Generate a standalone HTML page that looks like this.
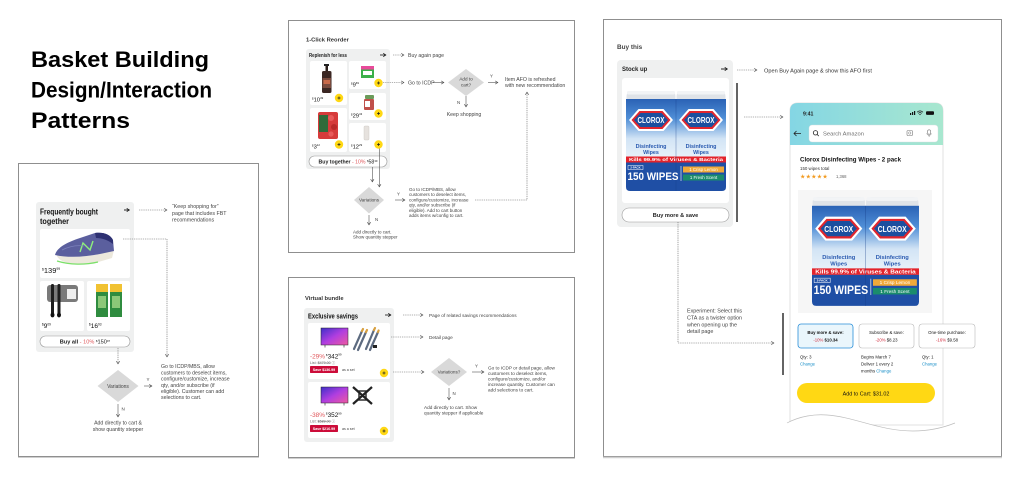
<!DOCTYPE html>
<html><head><meta charset="utf-8"><style>
html,body{margin:0;padding:0;background:#fff;width:1022px;height:478px;overflow:hidden}
svg{display:block}
text{font-family:"Liberation Sans",Arial,sans-serif}
</style></head><body>
<svg width="1022" height="478" viewBox="0 0 1022 478" xmlns="http://www.w3.org/2000/svg">
<defs>
<marker id="ah" viewBox="0 0 6 6" refX="5.2" refY="3" markerWidth="4" markerHeight="4" orient="auto" markerUnits="userSpaceOnUse"><path d="M1,0.5 L5,3 L1,5.5" fill="none" stroke="#444" stroke-width="0.9"/></marker>
<marker id="bh" viewBox="0 0 6 6" refX="5.2" refY="3" markerWidth="4" markerHeight="4" orient="auto" markerUnits="userSpaceOnUse"><path d="M1,0.5 L5,3 L1,5.5" fill="none" stroke="#111" stroke-width="1.1"/></marker>
<linearGradient id="hdr" x1="0" x2="1" y1="0" y2="0"><stop offset="0" stop-color="#84d6e4"/><stop offset="1" stop-color="#a8e7cf"/></linearGradient>
<linearGradient id="tv" x1="0" y1="0" x2="1" y2="1"><stop offset="0" stop-color="#3d2fc8"/><stop offset="0.5" stop-color="#b03ee0"/><stop offset="1" stop-color="#ef5aa0"/></linearGradient>
<linearGradient id="cg" x1="0" y1="0" x2="0" y2="1"><stop offset="0" stop-color="#2a62b5"/><stop offset="0.3" stop-color="#4f8ed6"/><stop offset="0.62" stop-color="#d2e4f5"/><stop offset="1" stop-color="#eef5fb"/></linearGradient>
</defs>

<!-- Title -->
<text x="31" y="67" font-size="22" font-weight="bold" fill="#000" textLength="178" lengthAdjust="spacingAndGlyphs">Basket Building</text>
<text x="31" y="97.5" font-size="22" font-weight="bold" fill="#000" textLength="181" lengthAdjust="spacingAndGlyphs">Design/Interaction</text>
<text x="31" y="128" font-size="22" font-weight="bold" fill="#000" textLength="99" lengthAdjust="spacingAndGlyphs">Patterns</text>

<!-- Frames -->
<rect x="18.5" y="163.5" width="240" height="293" fill="#fff" stroke="#8f8f8f" stroke-width="1"/>
<rect x="288.5" y="20.5" width="286" height="232" fill="#fff" stroke="#8f8f8f" stroke-width="1"/>
<rect x="288.5" y="277.5" width="286" height="180" fill="#fff" stroke="#8f8f8f" stroke-width="1"/>
<rect x="603.5" y="19.5" width="398" height="437" fill="#fff" stroke="#8f8f8f" stroke-width="1"/>
<line x1="18" y1="457.5" x2="259" y2="457.5" stroke="#cfcfcf" stroke-width="1"/>
<line x1="288" y1="458.5" x2="575" y2="458.5" stroke="#cfcfcf" stroke-width="1"/>
<line x1="603" y1="457.5" x2="1002" y2="457.5" stroke="#cfcfcf" stroke-width="1.5"/>

<!-- ============ LEFT PANEL ============ -->
<rect x="36" y="202" width="98" height="150" rx="3" fill="#eff0f0"/>
<text x="40" y="214.5" font-size="8" font-weight="bold" fill="#111" textLength="58" lengthAdjust="spacingAndGlyphs">Frequently bought</text>
<text x="40" y="224" font-size="8" font-weight="bold" fill="#111" textLength="29" lengthAdjust="spacingAndGlyphs">together</text>
<path d="M124,210 H129.5" stroke="#111" stroke-width="0.9" marker-end="url(#bh)"/>
<!-- shoe tile -->
<rect x="40" y="229" width="90" height="49" rx="2" fill="#fff"/>
<path d="M57,256 C60,263 75,266 95,263 L112,258 L114,250 L100,254 C85,257 70,257 57,254 Z" fill="#ece8dc"/>
<path d="M57,261 C70,265 85,265 98,262" stroke="#7ce06a" stroke-width="1.3" fill="none"/>
<path d="M55,255 C57,247 68,242 80,238 L95,233 C103,232 110,234 113,240 L114,251 L100,254 C85,257 68,258 55,255 Z" fill="#5b5f9e"/>
<path d="M95,233 C103,232 110,234 113,240 L113,244 C108,240 102,238 96,238 Z" fill="#2e3172"/>
<path d="M80,252 L83,243 L90,250 L93,241" stroke="#8ef07c" stroke-width="1.4" fill="none"/>
<path d="M62,250 C70,246 78,245 84,246" stroke="#7b80bb" stroke-width="0.8" fill="none"/>
<text x="42" y="273" fill="#111"><tspan font-size="3.4" dy="-2.6">$</tspan><tspan font-size="7.5" dy="2.6">139</tspan><tspan font-size="3.4" dy="-3">99</tspan></text>
<!-- small tiles -->
<rect x="40" y="281" width="44" height="50" rx="2" fill="#fff"/>
<rect x="87" y="281" width="43" height="50" rx="2" fill="#fff"/>
<rect x="47" y="285" width="31" height="17" rx="3" fill="#7a7a7a"/>
<rect x="67" y="289" width="9" height="10" fill="#eee"/>
<rect x="51" y="284" width="3" height="30" rx="1.4" fill="#1d1d1d"/>
<rect x="57.5" y="284" width="3" height="30" rx="1.4" fill="#1d1d1d"/>
<ellipse cx="52.5" cy="315" rx="2" ry="2.4" fill="#111"/>
<ellipse cx="59" cy="315" rx="2" ry="2.4" fill="#111"/>
<text x="42" y="328" fill="#111"><tspan font-size="3.2" dy="-2.4">$</tspan><tspan font-size="6.5" dy="2.4">9</tspan><tspan font-size="3.2" dy="-2.6">09</tspan></text>
<rect x="96" y="284" width="12" height="33" fill="#2f8c3f"/>
<rect x="96" y="284" width="12" height="8" fill="#f1c232"/>
<rect x="110" y="284" width="12" height="33" fill="#2f8c3f"/>
<rect x="110" y="284" width="12" height="8" fill="#f1c232"/>
<rect x="98" y="296" width="8" height="12" fill="#8cc878"/>
<rect x="112" y="296" width="8" height="12" fill="#8cc878"/>
<text x="89" y="328" fill="#111"><tspan font-size="3.2" dy="-2.4">$</tspan><tspan font-size="6.5" dy="2.4">16</tspan><tspan font-size="3.2" dy="-2.6">93</tspan></text>
<!-- buy all pill -->
<rect x="40" y="336" width="90" height="11" rx="5.5" fill="#fff" stroke="#9a9a9a" stroke-width="0.6"/>
<text x="85" y="343.6" font-size="5.6" text-anchor="middle" fill="#222"><tspan font-weight="bold">Buy all</tspan><tspan fill="#e0575b"> - 10% </tspan><tspan font-size="3" dy="-1.8">$</tspan><tspan font-size="5.6" dy="1.8">150</tspan><tspan font-size="3" dy="-1.8">97</tspan></text>
<!-- connectors left -->
<g fill="none" stroke="#666" stroke-width="0.6" stroke-dasharray="1.3 0.9">
<path d="M139,210 H167" marker-end="url(#ah)"/>
<path d="M123,239 H167 V357" marker-end="url(#ah)"/>
<path d="M118,348 V364" marker-end="url(#ah)"/>
</g>
<g font-size="5.3" fill="#444">
<text x="172" y="208">“Keep shopping for”</text>
<text x="172" y="215">page that includes FBT</text>
<text x="172" y="221.5">recommendations</text>
</g>
<polygon points="118,370 138.5,386 118,402 97.5,386" fill="#d9d9d9"/>
<text x="118" y="388" font-size="5" fill="#444" text-anchor="middle">Variations</text>
<path d="M144,386 H152" stroke="#555" stroke-width="0.6" fill="none" marker-end="url(#ah)"/>
<text x="146.5" y="381" font-size="4.5" fill="#444">Y</text>
<g font-size="5.2" fill="#444">
<text x="161" y="368">Go to ICDP/MBS, allow</text>
<text x="161" y="374.3">customers to deselect items,</text>
<text x="161" y="380.6">configure/customize, increase</text>
<text x="161" y="386.8">qty, and/or subscribe (if</text>
<text x="161" y="393">eligible). Customer can add</text>
<text x="161" y="399.2">selections to cart.</text>
</g>
<path d="M118,404 V417" stroke="#555" stroke-width="0.6" fill="none" marker-end="url(#ah)"/>
<text x="121.5" y="410.5" font-size="4.5" fill="#444">N</text>
<text x="118" y="424.5" font-size="5.2" fill="#444" text-anchor="middle">Add directly to cart &amp;</text>
<text x="118" y="430.8" font-size="5.2" fill="#444" text-anchor="middle">show quantity stepper</text>

<!-- ============ TOP MIDDLE PANEL ============ -->
<text x="306" y="41.5" font-size="5.8" font-weight="bold" fill="#333">1-Click Reorder</text>
<rect x="306" y="49" width="84" height="120" rx="3" fill="#eff0f0"/>
<text x="309" y="57" font-size="5.2" font-weight="bold" fill="#222" textLength="38" lengthAdjust="spacingAndGlyphs">Replenish for less</text>
<path d="M380,55 H386" stroke="#111" stroke-width="0.8" fill="none" marker-end="url(#bh)"/>
<!-- tiles -->
<rect x="310" y="61" width="37" height="44" rx="2" fill="#fff"/>
<rect x="310" y="108" width="37" height="44" rx="2" fill="#fff"/>
<rect x="349" y="61" width="37" height="28" rx="2" fill="#fff"/>
<rect x="349" y="93" width="37" height="27" rx="2" fill="#fff"/>
<rect x="349" y="123" width="37" height="29" rx="2" fill="#fff"/>
<!-- soap -->
<rect x="324" y="64" width="5" height="2" fill="#222"/>
<rect x="325.5" y="66" width="2.5" height="5" fill="#2a1e1a"/>
<rect x="322" y="71" width="9.5" height="22" rx="1.6" fill="#3b2723"/>
<rect x="322.5" y="78" width="8.5" height="10" fill="#7a4b3e"/>
<rect x="323.5" y="80" width="6.5" height="4" fill="#c86a4a"/>
<!-- strawberries -->
<rect x="318" y="112" width="20" height="27" rx="2" fill="#d63b3b"/>
<circle cx="331" cy="118" r="3" fill="#e85a5a"/><circle cx="334" cy="127" r="3" fill="#b82a2a"/><circle cx="331" cy="134" r="2.6" fill="#e85a5a"/>
<rect x="319" y="115" width="9" height="17" fill="#2f6b3a"/>
<!-- snack -->
<rect x="361" y="66" width="13" height="12" fill="#3bb04a"/>
<rect x="361" y="66" width="13" height="3.5" fill="#e84a9a"/>
<rect x="363" y="71" width="9" height="4" fill="#fff"/>
<!-- gummies -->
<rect x="365" y="95" width="9" height="4" rx="1" fill="#6b9b5a"/>
<rect x="364" y="99" width="10" height="11" rx="1" fill="#c0504a"/>
<rect x="365" y="101" width="5" height="6" fill="#fff"/>
<!-- lotion -->
<rect x="364" y="126" width="5" height="14" rx="1" fill="#e6e2de" stroke="#c8c4c0" stroke-width="0.4"/>
<!-- prices -->
<g fill="#111">
<text x="312" y="101.5"><tspan font-size="2.8" dy="-2.2">$</tspan><tspan font-size="5.8" dy="2.2">10</tspan><tspan font-size="2.8" dy="-2.4">49</tspan></text>
<text x="312" y="148.5"><tspan font-size="2.8" dy="-2.2">$</tspan><tspan font-size="5.8" dy="2.2">3</tspan><tspan font-size="2.8" dy="-2.4">12</tspan></text>
<text x="351" y="86.5"><tspan font-size="2.8" dy="-2.2">$</tspan><tspan font-size="5.8" dy="2.2">9</tspan><tspan font-size="2.8" dy="-2.4">69</tspan></text>
<text x="351" y="117.5"><tspan font-size="2.8" dy="-2.2">$</tspan><tspan font-size="5.8" dy="2.2">29</tspan><tspan font-size="2.8" dy="-2.4">43</tspan></text>
<text x="351" y="148.5"><tspan font-size="2.8" dy="-2.2">$</tspan><tspan font-size="5.8" dy="2.2">12</tspan><tspan font-size="2.8" dy="-2.4">29</tspan></text>
</g>
<g fill="#ffd814">
<circle cx="339" cy="98" r="4.2"/><circle cx="339" cy="144.5" r="4.2"/>
<circle cx="378.5" cy="83" r="4.2"/><circle cx="378.5" cy="113.5" r="4.2"/><circle cx="378.5" cy="144.5" r="4.2"/>
</g>
<g stroke="#222" stroke-width="0.7">
<path d="M337.5,98 h3 M339,96.5 v3"/><path d="M337.5,144.5 h3 M339,143 v3"/>
<path d="M377,83 h3 M378.5,81.5 v3"/><path d="M377,113.5 h3 M378.5,112 v3"/><path d="M377,144.5 h3 M378.5,143 v3"/>
</g>
<rect x="309" y="156" width="78" height="11" rx="5.5" fill="#fff" stroke="#9a9a9a" stroke-width="0.6"/>
<text x="348" y="163.5" font-size="5.2" text-anchor="middle" fill="#222"><tspan font-weight="bold">Buy together</tspan><tspan fill="#e0575b"> - 10% </tspan><tspan font-size="2.8" dy="-1.7">$</tspan><tspan font-size="5.2" dy="1.7">58</tspan><tspan font-size="2.8" dy="-1.7">39</tspan></text>
<!-- connectors -->
<g fill="none" stroke="#666" stroke-width="0.6" stroke-dasharray="1.3 0.9">
<path d="M393,55 H404" marker-end="url(#ah)"/>
<path d="M383,82.5 H404" marker-end="url(#ah)"/>
<path d="M475,200 H527 V92" marker-end="url(#ah)"/>
</g>
<g fill="none" stroke="#555" stroke-width="0.6">
<path d="M433,82.5 H444" marker-end="url(#ah)"/>
<path d="M488,82.5 H498" marker-end="url(#ah)"/>
<path d="M466,96 V107" marker-end="url(#ah)"/>
<path d="M372.3,167 V182" marker-end="url(#ah)"/>
<path d="M379.3,148.5 V187" marker-end="url(#ah)"/>
<path d="M395,200 H405" marker-end="url(#ah)"/>
<path d="M369,215 V225" marker-end="url(#ah)"/>
</g>
<g font-size="5.2" fill="#444">
<text x="408" y="57">Buy again page</text>
<text x="408" y="84.5">Go to ICDP</text>
<text x="505" y="81">Item AFO is refreshed</text>
<text x="505" y="87">with new recommendation</text>
<text x="464" y="116" text-anchor="middle">Keep shopping</text>
</g>
<polygon points="466,69 484,82.5 466,96 448,82.5" fill="#d9d9d9"/>
<text x="466" y="80.5" font-size="4.6" fill="#444" text-anchor="middle">Add to</text>
<text x="466" y="86.5" font-size="4.6" fill="#444" text-anchor="middle">cart?</text>
<text x="490" y="77.5" font-size="4.4" fill="#444">Y</text>
<text x="457" y="104" font-size="4.4" fill="#444">N</text>
<polygon points="369,187 384,200 369,213.5 354,200" fill="#d9d9d9"/>
<text x="369" y="201.7" font-size="4.6" fill="#444" text-anchor="middle">Variations</text>
<text x="397" y="195.5" font-size="4.4" fill="#444">Y</text>
<text x="375" y="221" font-size="4.4" fill="#444">N</text>
<g font-size="4.5" fill="#444">
<text x="409" y="191">Go to ICDP/MBS, allow</text>
<text x="409" y="196.2">customers to deselect items,</text>
<text x="409" y="201.4">configure/customize, increase</text>
<text x="409" y="206.6">qty, and/or subscribe (if</text>
<text x="409" y="211.8">eligible). Add to cart button</text>
<text x="409" y="217">adds items w/config to cart.</text>
<text x="353" y="233.5">Add directly to cart.</text>
<text x="353" y="238.7">Show quantity stepper</text>
</g>

<!-- ============ BOTTOM MIDDLE PANEL ============ -->
<text x="305" y="300" font-size="5.8" font-weight="bold" fill="#333">Virtual bundle</text>
<rect x="304" y="308" width="90" height="134" rx="3" fill="#eff0f0"/>
<text x="308" y="318.5" font-size="7" font-weight="bold" fill="#111" textLength="50" lengthAdjust="spacingAndGlyphs">Exclusive savings</text>
<path d="M385,315 H391" stroke="#111" stroke-width="0.8" fill="none" marker-end="url(#bh)"/>
<rect x="308" y="323" width="82" height="56" rx="2" fill="#fff"/>
<rect x="308" y="382" width="82" height="56" rx="2" fill="#fff"/>
<!-- TV1 + cables -->
<rect x="321" y="328" width="27" height="17" fill="url(#tv)" stroke="#222" stroke-width="0.5"/>
<path d="M325,345 v2.5 M344,345 v2.5" stroke="#222" stroke-width="0.6"/>
<g stroke-linecap="round">
<path d="M354,349 L362,331" stroke="#5d6b80" stroke-width="2.2"/>
<path d="M358,350 L366,332" stroke="#5d6b80" stroke-width="2.2"/>
<path d="M366,349 L374,330" stroke="#5d6b80" stroke-width="2.2"/>
<path d="M370,350 L378,332" stroke="#5d6b80" stroke-width="2.2"/>
<path d="M362,331 l1,-2 M366,332 l1,-2 M374,330 l1,-2 M378,332 l0.6,-1.5" stroke="#d8a040" stroke-width="2.2"/>
</g>
<rect x="373" y="345" width="4" height="3" fill="#222"/>
<!-- TV2 + mount -->
<rect x="321" y="387" width="27" height="16" fill="url(#tv)" stroke="#222" stroke-width="0.5"/>
<path d="M325,403 v2.5 M344,403 v2.5" stroke="#222" stroke-width="0.6"/>
<path d="M353,387 L372,404 M372,387 L353,404" stroke="#222" stroke-width="2.2"/>
<rect x="359" y="391" width="7" height="9" fill="none" stroke="#222" stroke-width="1.4"/>
<!-- prices -->
<text x="310" y="358.3" font-size="6.4"><tspan fill="#e0575b">-29%</tspan><tspan fill="#111" font-size="3" dx="1" dy="-2.4">$</tspan><tspan fill="#111" dy="2.4">342</tspan><tspan fill="#111" font-size="3" dy="-2.6">99</tspan></text>
<text x="310" y="364" font-size="3.6" fill="#666">List: <tspan text-decoration="line-through">$479.00</tspan> ⓘ</text>
<rect x="310" y="366" width="28" height="7" rx="0.8" fill="#cc0c39"/>
<text x="324" y="371" font-size="3.6" fill="#fff" text-anchor="middle" font-weight="bold">Save $136.99</text>
<text x="342" y="371" font-size="3.6" fill="#444">as a set</text>
<text x="310" y="417" font-size="6.4"><tspan fill="#e0575b">-38%</tspan><tspan fill="#111" font-size="3" dx="1" dy="-2.4">$</tspan><tspan fill="#111" dy="2.4">352</tspan><tspan fill="#111" font-size="3" dy="-2.6">99</tspan></text>
<text x="310" y="422.7" font-size="3.6" fill="#666">List: <tspan text-decoration="line-through">$589.00</tspan> ⓘ</text>
<rect x="310" y="425" width="28" height="7" rx="0.8" fill="#cc0c39"/>
<text x="324" y="430" font-size="3.6" fill="#fff" text-anchor="middle" font-weight="bold">Save $216.99</text>
<text x="342" y="430" font-size="3.6" fill="#444">as a set</text>
<circle cx="384" cy="373" r="4.2" fill="#ffd814"/><circle cx="384" cy="431" r="4.2" fill="#ffd814"/>
<path d="M382.5,373 h3 M384,371.5 v3 M382.5,431 h3 M384,429.5 v3" stroke="#222" stroke-width="0.7"/>
<!-- connectors -->
<g fill="none" stroke="#666" stroke-width="0.6" stroke-dasharray="1.3 0.9">
<path d="M403,315 H423" marker-end="url(#ah)"/>
<path d="M391,337 H423" marker-end="url(#ah)"/>
<path d="M393,372 H424" marker-end="url(#ah)"/>
</g>
<g fill="none" stroke="#555" stroke-width="0.6">
<path d="M472,372 H484" marker-end="url(#ah)"/>
<path d="M449,388 V400" marker-end="url(#ah)"/>
</g>
<polygon points="449,358 467,372 449,386 431,372" fill="#d9d9d9"/>
<text x="449" y="373.7" font-size="4.6" fill="#444" text-anchor="middle">Variations?</text>
<text x="475" y="367.5" font-size="4.4" fill="#444">Y</text>
<text x="452.5" y="395" font-size="4.4" fill="#444">N</text>
<g font-size="4.7" fill="#444">
<text x="429" y="317">Page of related savings recommendations</text>
<text x="429" y="339">Detail page</text>
<text x="488" y="369.5">Go to ICDP or detail page, allow</text>
<text x="488" y="375">customers to deselect items,</text>
<text x="488" y="380.5">configure/customize, and/or</text>
<text x="488" y="386">increase quantity. Customer can</text>
<text x="488" y="391.5">add selections to cart.</text>
<text x="424" y="409">Add directly to cart. Show</text>
<text x="424" y="414.5">quantity stepper if applicable</text>
</g>

<!-- ============ RIGHT PANEL ============ -->
<text x="617" y="49" font-size="6.4" font-weight="bold" fill="#444">Buy this</text>
<rect x="617" y="60" width="116" height="167" rx="4" fill="#eff0f0"/>
<text x="622" y="71.2" font-size="6" font-weight="bold" fill="#222">Stock up</text>
<path d="M721,69 H727.5" stroke="#111" stroke-width="0.9" fill="none" marker-end="url(#bh)"/>
<rect x="622" y="78" width="107" height="125" rx="3" fill="#fff"/>

<!-- Clorox 1 -->
<svg x="626" y="90" width="100" height="102" viewBox="0 0 100 102" preserveAspectRatio="none">
<g>
<rect x="0.5" y="1" width="49" height="13" rx="5" fill="#dfe3e8"/>
<rect x="1" y="1" width="48" height="3.5" rx="1.5" fill="#f2f4f6"/>
<rect x="0" y="9" width="50" height="64" fill="url(#cg)"/>
<polygon points="3,30 12.5,19 37.5,19 47,30 37.5,41 12.5,41" fill="#fff"/>
<polygon points="5.5,30 13.5,21 36.5,21 44.5,30 36.5,39 13.5,39" fill="#e0262e"/>
<polygon points="8,30 14.5,23 35.5,23 42,30 35.5,37 14.5,37" fill="#1b4f9f"/>
<text x="25" y="33.2" font-size="8" font-weight="bold" fill="#fff" text-anchor="middle" textLength="27" lengthAdjust="spacingAndGlyphs">CLOROX</text>
<text x="25" y="58" font-size="5.4" font-weight="bold" fill="#2a5ab0" text-anchor="middle">Disinfecting</text>
<text x="25" y="64" font-size="5.4" font-weight="bold" fill="#2a5ab0" text-anchor="middle">Wipes</text>
</g>
<g transform="translate(50,0)">
<rect x="0.5" y="1" width="49" height="13" rx="5" fill="#dfe3e8"/>
<rect x="1" y="1" width="48" height="3.5" rx="1.5" fill="#f2f4f6"/>
<rect x="0" y="9" width="50" height="64" fill="url(#cg)"/>
<polygon points="3,30 12.5,19 37.5,19 47,30 37.5,41 12.5,41" fill="#fff"/>
<polygon points="5.5,30 13.5,21 36.5,21 44.5,30 36.5,39 13.5,39" fill="#e0262e"/>
<polygon points="8,30 14.5,23 35.5,23 42,30 35.5,37 14.5,37" fill="#1b4f9f"/>
<text x="25" y="33.2" font-size="8" font-weight="bold" fill="#fff" text-anchor="middle" textLength="27" lengthAdjust="spacingAndGlyphs">CLOROX</text>
<text x="25" y="58" font-size="5.4" font-weight="bold" fill="#2a5ab0" text-anchor="middle">Disinfecting</text>
<text x="25" y="64" font-size="5.4" font-weight="bold" fill="#2a5ab0" text-anchor="middle">Wipes</text>
</g>
<rect x="0" y="66.5" width="100" height="6" fill="#e3232b"/>
<text x="50" y="71.1" font-size="4.6" font-weight="bold" fill="#fff" text-anchor="middle" textLength="94" lengthAdjust="spacingAndGlyphs">Kills 99.9% of Viruses &amp; Bacteria</text>
<path d="M0,72.5 H100 V97 Q100,101 96,101 H4 Q0,101 0,97 Z" fill="#1f4fa5"/>
<line x1="50" y1="9" x2="50" y2="101" stroke="#143a85" stroke-width="0.6" opacity="0.5"/>
<rect x="2" y="75.5" width="15" height="4" fill="none" stroke="#fff" stroke-width="0.5"/>
<text x="9.5" y="78.6" font-size="2.8" fill="#fff" text-anchor="middle" font-weight="bold">2-PACK</text>
<text x="1.5" y="90" font-size="11" font-weight="bold" fill="#fff" textLength="51" lengthAdjust="spacingAndGlyphs">150 WIPES</text>
<line x1="55" y1="76" x2="55" y2="91" stroke="#fff" stroke-width="0.6"/>
<rect x="57" y="76.5" width="41" height="6" fill="#f0a93a"/>
<text x="77.5" y="81" font-size="4.4" fill="#fff" text-anchor="middle">1 Crisp Lemon</text>
<rect x="57" y="84.5" width="41" height="6" fill="#1b8c6c"/>
<text x="77.5" y="89" font-size="4.4" fill="#fff" text-anchor="middle">1 Fresh Scent</text>
</svg>

<rect x="622" y="208" width="107" height="14" rx="7" fill="#fff" stroke="#9a9a9a" stroke-width="0.6"/>
<text x="675.5" y="217.2" font-size="5.6" fill="#222" text-anchor="middle" font-weight="bold">Buy more &amp; save</text>
<line x1="737" y1="83" x2="737" y2="222" stroke="#222" stroke-width="1.4"/>
<line x1="783" y1="313" x2="783" y2="375" stroke="#222" stroke-width="1.4"/>
<g fill="none" stroke="#666" stroke-width="0.6" stroke-dasharray="1.3 0.9">
<path d="M737,70 H757" marker-end="url(#ah)"/>
<path d="M744,117 H783" marker-end="url(#ah)"/>
<path d="M678,222 V343 H774" marker-end="url(#ah)"/>
</g>
<text x="764" y="72.3" font-size="5.6" fill="#333">Open Buy Again page &amp; show this AFO first</text>
<g font-size="5.4" fill="#444">
<text x="687" y="312.7">Experiment: Select this</text>
<text x="687" y="319.5">CTA as a twister option</text>
<text x="687" y="326.3">when opening up the</text>
<text x="687" y="333">detail page</text>
</g>

<!-- Phone -->
<path d="M790,425 V111 Q790,103 798,103 H935 Q943,103 943,111 V425 Z" fill="#fff" stroke="#e2e2e2" stroke-width="1"/>
<path d="M790,145 V111 Q790,103 798,103 H935 Q943,103 943,111 V145 Z" fill="url(#hdr)"/>
<text x="803" y="115.5" font-size="5.2" font-weight="bold" fill="#222">9:41</text>
<rect x="910" y="113" width="1.2" height="2" fill="#111"/><rect x="912" y="112" width="1.2" height="3" fill="#111"/><rect x="914" y="111" width="1.2" height="4" fill="#111"/>
<path d="M917,112.2 Q920,109.5 923,112.2 M918.2,113.4 Q920,111.8 921.8,113.4" stroke="#111" stroke-width="0.7" fill="none"/><circle cx="920" cy="114.5" r="0.6" fill="#111"/>
<rect x="926" y="111.3" width="8" height="3.6" rx="1" fill="#111"/>
<path d="M801,133.5 H794 M796.5,131 L794,133.5 L796.5,136" stroke="#222" stroke-width="0.8" fill="none"/>
<rect x="809" y="125" width="129" height="17" rx="3" fill="#fff" stroke="#d6dadd" stroke-width="0.4"/>
<circle cx="815.5" cy="132.8" r="2.2" fill="none" stroke="#222" stroke-width="0.8"/>
<path d="M817.1,134.4 L818.8,136.1" stroke="#222" stroke-width="0.8"/>
<text x="823" y="135.5" font-size="5.8" fill="#6f6f6f">Search Amazon</text>
<rect x="907" y="130.5" width="5.5" height="5" rx="1" fill="none" stroke="#777" stroke-width="0.6"/>
<circle cx="909.75" cy="133" r="1.2" fill="none" stroke="#777" stroke-width="0.5"/>
<rect x="927.6" y="129.8" width="3" height="4.5" rx="1.5" fill="none" stroke="#777" stroke-width="0.6"/>
<path d="M926.5,133.5 Q929.1,137.5 931.7,133.5 M929.1,135.8 V137" stroke="#777" stroke-width="0.5" fill="none"/>

<text x="800" y="161.5" font-size="6.1" font-weight="bold" fill="#111" textLength="101" lengthAdjust="spacingAndGlyphs">Clorox Disinfecting Wipes - 2 pack</text>
<text x="800" y="170" font-size="4.4" fill="#333">150 wipes total</text>
<text x="800" y="178.3" font-size="6" fill="#f29a1f" letter-spacing="0.2">★★★★★</text>
<text x="836" y="177.8" font-size="4.2" fill="#666">1,368</text>
<rect x="798" y="190" width="134" height="123" fill="#f6f6f6"/>

<!-- Clorox 2 -->
<svg x="812" y="196" width="107" height="111" viewBox="0 0 100 102" preserveAspectRatio="none">
<g>
<rect x="0.5" y="1" width="49" height="13" rx="5" fill="#dfe3e8"/>
<rect x="1" y="1" width="48" height="3.5" rx="1.5" fill="#f2f4f6"/>
<rect x="0" y="9" width="50" height="64" fill="url(#cg)"/>
<polygon points="3,30 12.5,19 37.5,19 47,30 37.5,41 12.5,41" fill="#fff"/>
<polygon points="5.5,30 13.5,21 36.5,21 44.5,30 36.5,39 13.5,39" fill="#e0262e"/>
<polygon points="8,30 14.5,23 35.5,23 42,30 35.5,37 14.5,37" fill="#1b4f9f"/>
<text x="25" y="33.2" font-size="8" font-weight="bold" fill="#fff" text-anchor="middle" textLength="27" lengthAdjust="spacingAndGlyphs">CLOROX</text>
<text x="25" y="58" font-size="5.4" font-weight="bold" fill="#2a5ab0" text-anchor="middle">Disinfecting</text>
<text x="25" y="64" font-size="5.4" font-weight="bold" fill="#2a5ab0" text-anchor="middle">Wipes</text>
</g>
<g transform="translate(50,0)">
<rect x="0.5" y="1" width="49" height="13" rx="5" fill="#dfe3e8"/>
<rect x="1" y="1" width="48" height="3.5" rx="1.5" fill="#f2f4f6"/>
<rect x="0" y="9" width="50" height="64" fill="url(#cg)"/>
<polygon points="3,30 12.5,19 37.5,19 47,30 37.5,41 12.5,41" fill="#fff"/>
<polygon points="5.5,30 13.5,21 36.5,21 44.5,30 36.5,39 13.5,39" fill="#e0262e"/>
<polygon points="8,30 14.5,23 35.5,23 42,30 35.5,37 14.5,37" fill="#1b4f9f"/>
<text x="25" y="33.2" font-size="8" font-weight="bold" fill="#fff" text-anchor="middle" textLength="27" lengthAdjust="spacingAndGlyphs">CLOROX</text>
<text x="25" y="58" font-size="5.4" font-weight="bold" fill="#2a5ab0" text-anchor="middle">Disinfecting</text>
<text x="25" y="64" font-size="5.4" font-weight="bold" fill="#2a5ab0" text-anchor="middle">Wipes</text>
</g>
<rect x="0" y="66.5" width="100" height="6" fill="#e3232b"/>
<text x="50" y="71.1" font-size="4.6" font-weight="bold" fill="#fff" text-anchor="middle" textLength="94" lengthAdjust="spacingAndGlyphs">Kills 99.9% of Viruses &amp; Bacteria</text>
<path d="M0,72.5 H100 V97 Q100,101 96,101 H4 Q0,101 0,97 Z" fill="#1f4fa5"/>
<line x1="50" y1="9" x2="50" y2="101" stroke="#143a85" stroke-width="0.6" opacity="0.5"/>
<rect x="2" y="75.5" width="15" height="4" fill="none" stroke="#fff" stroke-width="0.5"/>
<text x="9.5" y="78.6" font-size="2.8" fill="#fff" text-anchor="middle" font-weight="bold">2-PACK</text>
<text x="1.5" y="90" font-size="11" font-weight="bold" fill="#fff" textLength="51" lengthAdjust="spacingAndGlyphs">150 WIPES</text>
<line x1="55" y1="76" x2="55" y2="91" stroke="#fff" stroke-width="0.6"/>
<rect x="57" y="76.5" width="41" height="6" fill="#f0a93a"/>
<text x="77.5" y="81" font-size="4.4" fill="#fff" text-anchor="middle">1 Crisp Lemon</text>
<rect x="57" y="84.5" width="41" height="6" fill="#1b8c6c"/>
<text x="77.5" y="89" font-size="4.4" fill="#fff" text-anchor="middle">1 Fresh Scent</text>
</svg>

<!-- option cards -->
<rect x="798" y="324" width="55" height="24" rx="3" fill="#eaf6fc" stroke="#2a8fd8" stroke-width="0.8"/>
<rect x="859" y="324" width="55" height="24" rx="3" fill="#fff" stroke="#b8b8b8" stroke-width="0.6"/>
<rect x="919" y="324" width="56" height="24" rx="3" fill="#fff" stroke="#b8b8b8" stroke-width="0.6"/>
<g font-size="4.3" text-anchor="middle" fill="#111">
<text x="825.5" y="334" font-weight="bold">Buy more &amp; save:</text>
<text x="825.5" y="341.5"><tspan fill="#d0283a">-10%</tspan><tspan font-weight="bold"> $10.34</tspan></text>
<text x="886.5" y="334">Subscribe &amp; save:</text>
<text x="886.5" y="341.5"><tspan fill="#d0283a">-20%</tspan> $8.23</text>
<text x="947" y="334">One-time purchase:</text>
<text x="947" y="341.5"><tspan fill="#d0283a">-16%</tspan> $9.58</text>
</g>
<g font-size="4.3" fill="#222">
<text x="800" y="358.5">Qty: 3</text>
<text x="800" y="365.5" fill="#1a8fc8">Change</text>
<text x="861" y="358.5">Begins March 7</text>
<text x="861" y="365.5">Deliver 1 every 2</text>
<text x="861" y="372.5">months <tspan fill="#1a8fc8">Change</tspan></text>
<text x="922" y="358.5">Qty: 1</text>
<text x="922" y="365.5" fill="#1a8fc8">Change</text>
</g>
<rect x="797" y="383" width="138" height="20" rx="10" fill="#ffd814"/>
<text x="866" y="395.3" font-size="5.4" fill="#111" text-anchor="middle">Add to Cart: $31.02</text>
<!-- phone bottom wave -->
<path d="M780,426 L787,423 C800,416 815,414 827,415 C855,417 880,431 913,431 C930,431 945,427 955,423 L960,440 L780,440 Z" fill="#fff"/>
<path d="M787,423 C800,416 815,414 827,415 C855,417 880,431 913,431 C930,431 945,427 955,423" fill="none" stroke="#bdbdbd" stroke-width="0.7"/>
</svg>
</body></html>
